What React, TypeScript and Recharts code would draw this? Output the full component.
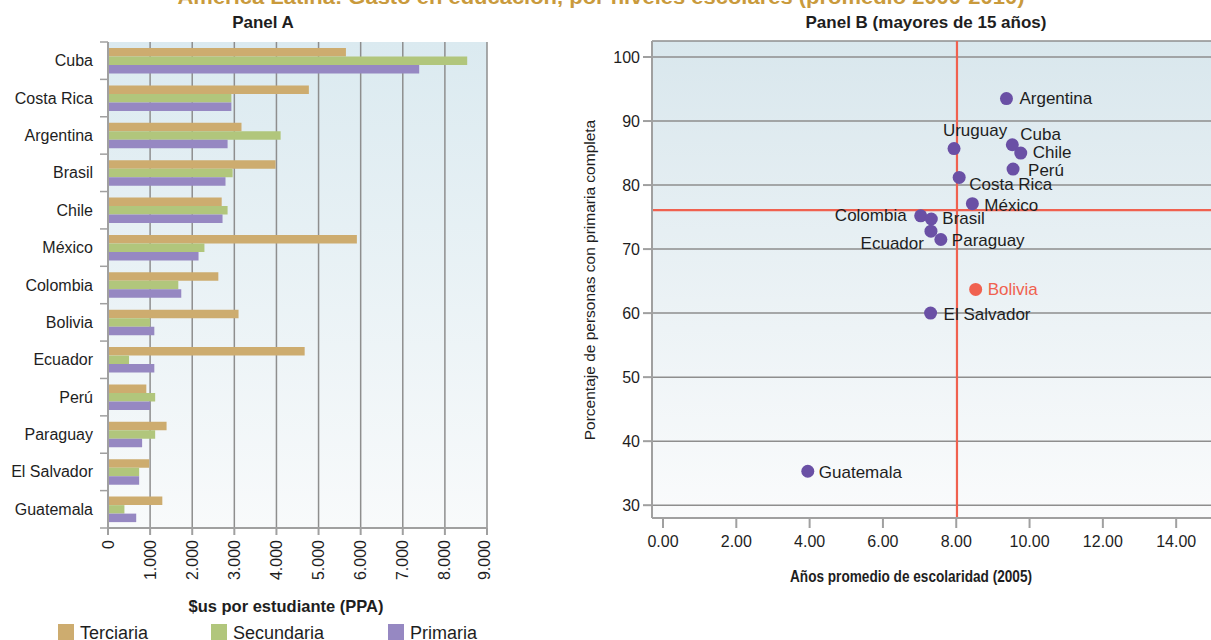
import React from 'react';
import {
  BarChart, Bar, XAxis, YAxis, CartesianGrid,
  ScatterChart, Scatter, ReferenceLine,
} from 'recharts';

// Panel A: gasto por estudiante ($us PPA)
const countriesA = ['Cuba', 'Costa Rica', 'Argentina', 'Brasil', 'Chile', 'México', 'Colombia',
  'Bolivia', 'Ecuador', 'Perú', 'Paraguay', 'El Salvador', 'Guatemala'];
const terciaria = [5650, 4770, 3170, 3980, 2700, 5910, 2620, 3100, 4670, 910, 1390, 980, 1290];
const secundaria = [8530, 2930, 4100, 2960, 2840, 2290, 1670, 1000, 500, 1120, 1120, 740, 390];
const primaria = [7390, 2930, 2840, 2790, 2720, 2150, 1740, 1100, 1100, 1000, 810, 740, 670];
const spendTicks = [0, 1000, 2000, 3000, 4000, 5000, 6000, 7000, 8000, 9000];

// Panel B: años de escolaridad vs % con primaria completa
const countriesB = ['Argentina', 'Uruguay', 'Cuba', 'Chile', 'Perú', 'Costa Rica', 'México',
  'Colombia', 'Brasil', 'Ecuador', 'Paraguay', 'Bolivia', 'El Salvador', 'Guatemala'];
const schooling = [9.37, 7.94, 9.53, 9.76, 9.55, 8.08, 8.44, 7.03, 7.32, 7.31, 7.58, 8.53, 7.30, 3.95];
const primaryComplete = [93.5, 85.7, 86.3, 85.0, 82.5, 81.2, 77.1, 75.2, 74.7, 72.8, 71.5, 63.7, 60.0, 35.3];
const avgSchooling = 8.02;
const avgPrimary = 76.1;
const schoolTicks = [0, 2, 4, 6, 8, 10, 12, 14];
const pctTicks = [30, 40, 50, 60, 70, 80, 90, 100];

const FONT = '"Liberation Sans", Arial, sans-serif';
const GRID = '#8e8e8e';
const AXIS = '#a0a0a0';
const TXT = '#1e1e1e';
const PURPLE_DOT = '#6a50a5';
const RED = '#f0614f';

const seriesA = [
  { key: 'terciaria', label: 'Terciaria', color: '#cdac6f' },
  { key: 'secundaria', label: 'Secundaria', color: '#b1c67c' },
  { key: 'primaria', label: 'Primaria', color: '#9688c2' },
];

const dataA = countriesA.map((country, i) => ({
  country,
  terciaria: terciaria[i],
  secundaria: secundaria[i],
  primaria: primaria[i],
}));

const dataB = countriesB.map((name, i) => ({ name, x: schooling[i], y: primaryComplete[i] }));

// label placement next to each dot
const labelPos: Record<string, { dx: number; dy: number; anchor?: 'start' | 'middle' | 'end' }> = {
  Argentina: { dx: 13, dy: 0 },
  Uruguay: { dx: 21, dy: -18, anchor: 'middle' },
  Cuba: { dx: 8, dy: -10 },
  Chile: { dx: 12, dy: -1 },
  'Perú': { dx: 15, dy: 1 },
  'Costa Rica': { dx: 10, dy: 7 },
  'México': { dx: 12, dy: 2 },
  Colombia: { dx: -14, dy: 0, anchor: 'end' },
  Brasil: { dx: 11, dy: 0 },
  Ecuador: { dx: -7, dy: 12, anchor: 'end' },
  Paraguay: { dx: 11, dy: 1 },
  Bolivia: { dx: 12, dy: 0 },
  'El Salvador': { dx: 13, dy: 1 },
  Guatemala: { dx: 11, dy: 1 },
};

const A_TOP = 42;
const A_BOTTOM = 528;
const BAND = (A_BOTTOM - A_TOP) / countriesA.length;

const fmtThousands = (v: number) => (v === 0 ? '0' : `${v / 1000}.000`);

const CategoryTick = (props: any) => {
  const { x, y, payload, index } = props;
  const axisX = x + 15;
  return (
    <g>
      <line x1={axisX - 8} x2={axisX} y1={y - BAND / 2} y2={y - BAND / 2} stroke={AXIS} strokeWidth={1.5} />
      {index === countriesA.length - 1 && (
        <line x1={axisX - 8} x2={axisX} y1={y + BAND / 2} y2={y + BAND / 2} stroke={AXIS} strokeWidth={1.5} />
      )}
      <text x={x} y={y} textAnchor="end" dominantBaseline="central" fontSize={16} fill={TXT} fontFamily={FONT}>
        {payload.value}
      </text>
    </g>
  );
};

const SpendTick = (props: any) => {
  const { x, y, payload } = props;
  return (
    <text x={x} y={y} transform={`rotate(-90 ${x} ${y})`} textAnchor="end" dominantBaseline="central"
      fontSize={16} fill={TXT} fontFamily={FONT}>
      {fmtThousands(payload.value)}
    </text>
  );
};

const CountryDot = (props: any) => {
  const { cx, cy, payload } = props;
  const p = labelPos[payload.name] || { dx: 11, dy: 0 };
  const isBolivia = payload.name === 'Bolivia';
  return (
    <g>
      <circle cx={cx} cy={cy} r={6.5} fill={isBolivia ? RED : PURPLE_DOT} />
      <text x={cx + p.dx} y={cy + p.dy} textAnchor={p.anchor || 'start'} dominantBaseline="central"
        fontSize={17} fill={isBolivia ? RED : TXT} fontFamily={FONT}>
        {payload.name}
      </text>
    </g>
  );
};

export default function App() {
  return (
    <div style={{ position: 'absolute', left: 0, top: 0, width: 1211, height: 640, overflow: 'hidden', background: '#fff', fontFamily: FONT }}>
      {/* Panel A */}
      <div style={{ position: 'absolute', left: 0, top: 0 }}>
        <BarChart width={500} height={640} data={dataA} layout="vertical"
          margin={{ top: A_TOP, right: 13, bottom: 32, left: 0 }} barGap={0} barSize={8.5}>
          <defs>
            <linearGradient id="bgA" x1="0" y1="0" x2="0" y2="1">
              <stop offset="0%" stopColor="#dbeaf0" />
              <stop offset="100%" stopColor="#f8fafb" />
            </linearGradient>
          </defs>
          <CartesianGrid horizontal={false} stroke={GRID} strokeWidth={1.5} fill="url(#bgA)" />
          <XAxis type="number" domain={[0, 9000]} ticks={spendTicks} height={80}
            stroke={AXIS} strokeWidth={2} tickSize={7} tickMargin={5} tick={<SpendTick />} />
          <YAxis type="category" dataKey="country" width={108} stroke={AXIS} strokeWidth={2}
            tickLine={false} tickSize={0} tickMargin={15} tick={<CategoryTick />} interval={0} />
          {seriesA.map((s) => (
            <Bar key={s.key} dataKey={s.key} name={s.label} fill={s.color} isAnimationActive={false} />
          ))}
        </BarChart>
      </div>

      {/* Panel B */}
      <div style={{ position: 'absolute', left: 580, top: 0 }}>
        <ScatterChart width={631} height={640} margin={{ top: 41, right: 0, bottom: 62, left: 0 }}>
          <defs>
            <linearGradient id="bgB" x1="0" y1="0" x2="0" y2="1">
              <stop offset="0%" stopColor="#d9e7ed" />
              <stop offset="100%" stopColor="#fafbfc" />
            </linearGradient>
          </defs>
          <CartesianGrid vertical={false} stroke={GRID} strokeWidth={1.5} fill="url(#bgB)" />
          <XAxis type="number" dataKey="x" domain={[-0.3, 14.95]} ticks={schoolTicks} allowDataOverflow
            height={60} stroke={AXIS} strokeWidth={2} tickSize={10} tickMargin={8}
            tick={{ fontSize: 16, fill: TXT, fontFamily: FONT }} tickFormatter={(v: number) => v.toFixed(2)} />
          <YAxis type="number" dataKey="y" domain={[28, 102.5]} ticks={pctTicks} allowDataOverflow
            width={72} stroke={AXIS} strokeWidth={2} tickSize={9} tickMargin={3}
            tick={{ fontSize: 16, fill: TXT, fontFamily: FONT }} />
          <ReferenceLine x={avgSchooling} stroke={RED} strokeWidth={2.2} />
          <ReferenceLine y={avgPrimary} stroke={RED} strokeWidth={2.2} />
          <Scatter data={dataB} shape={<CountryDot />} isAnimationActive={false} />
        </ScatterChart>
      </div>

      {/* titles, axis titles, legend */}
      <svg width={1211} height={640} style={{ position: 'absolute', left: 0, top: 0, pointerEvents: 'none' }}>
        <text x={601} y={4} textAnchor="middle" fontSize={21} fontWeight="bold" fill="#c99a3c" fontFamily={FONT}
          textLength={847} lengthAdjust="spacingAndGlyphs">
          América Latina: Gasto en educación, por niveles escolares (promedio 2000-2010)
        </text>
        <text x={263} y={28} textAnchor="middle" fontSize={17} fontWeight="bold" fill={TXT} fontFamily={FONT}>Panel A</text>
        <text x={926} y={28} textAnchor="middle" fontSize={17} fontWeight="bold" fill={TXT} fontFamily={FONT}>Panel B (mayores de 15 años)</text>
        <text x={286} y={612} textAnchor="middle" fontSize={16.5} fontWeight="bold" fill={TXT} fontFamily={FONT}>$us por estudiante (PPA)</text>
        <text x={911} y={582} textAnchor="middle" fontSize={17} fontWeight="bold" fill={TXT} fontFamily={FONT}
          textLength={242} lengthAdjust="spacingAndGlyphs">Años promedio de escolaridad (2005)</text>
        <text x={589} y={280} transform="rotate(-90 589 280)" textAnchor="middle" dominantBaseline="central"
          fontSize={15.5} fill={TXT} fontFamily={FONT}>Porcentaje de personas con primaria completa</text>
        {seriesA.map((s, i) => {
          const lx = [58, 211, 388][i];
          return (
            <g key={s.key}>
              <rect x={lx} y={624} width={16} height={16} fill={s.color} />
              <text x={lx + 22} y={639} fontSize={18} fill={TXT} fontFamily={FONT}>{s.label}</text>
            </g>
          );
        })}
      </svg>
    </div>
  );
}
